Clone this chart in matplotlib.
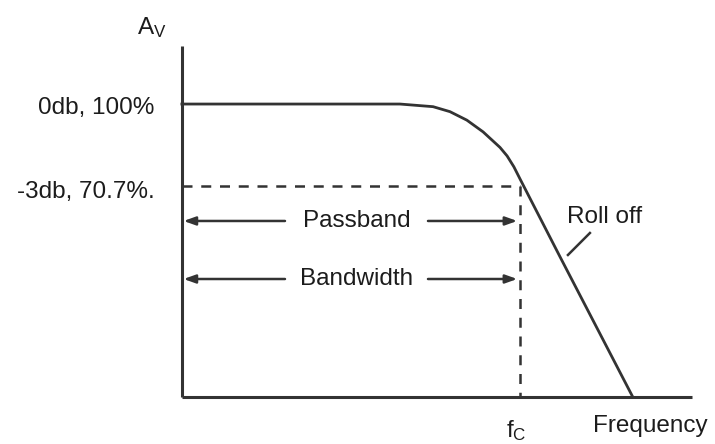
# Low-pass response: passband, -3 dB point, roll off
import matplotlib.pyplot as plt

plt.rcParams['font.family'] = ['Liberation Sans', 'DejaVu Sans']

# frequency (fc = 1) and gain (%)
freq = [0.0, 0.645, 0.743, 0.793, 0.843, 0.891, 0.941, 0.962, 0.982, 1.0, 1.118, 1.334]
gain = [100, 100, 99.1, 97.4, 94.5, 90.5, 85.2, 82.3, 78.6, 74.5, 48.0, 0]

fc = 1.0
cut_gain = 72.0
y_labels = ['0db, 100%', '-3db, 70.7%.']
y_label_pos = [98.6, 70.0]

ink = '#333333'
txt_c = '#1c1c1c'

fig = plt.figure(figsize=(7.15, 4.44), dpi=100)
ax = fig.add_axes([0, 0, 1, 1])
ax.set_xlim(-0.538, 1.577)
ax.set_ylim(-16.0, 135.5)
ax.axis('off')

# axes
ax.plot([0, 0], [0, 119.8], color=ink, lw=2.2, solid_capstyle='butt')
ax.plot([0, 1.509], [0, 0], color=ink, lw=2.2, solid_capstyle='butt')

# response curve
ax.plot(freq, gain, color=ink, lw=2.0, solid_joinstyle='round')

# -3 dB guide lines
ax.plot([0, fc], [cut_gain, cut_gain], color=ink, lw=1.8, dashes=(4, 3.5))
ax.plot([fc, fc], [cut_gain, 0], color=ink, lw=1.8, dashes=(4, 3.5))

# passband / bandwidth arrows
arrow = dict(arrowstyle='-|>,head_length=0.7,head_width=0.25', color=ink, lw=1.8,
             shrinkA=0, shrinkB=0)
for lvl, txt in [(60.1, 'Passband'), (40.3, 'Bandwidth')]:
    ax.annotate('', xy=(0.005, lvl), xytext=(0.305, lvl), arrowprops=arrow)
    ax.annotate('', xy=(fc - 0.008, lvl), xytext=(0.728, lvl), arrowprops=arrow)
    ax.text(0.518, lvl, txt, ha='center', va='center', fontsize=17.5, color=txt_c)

# roll off label
ax.text(1.251, 61.6, 'Roll off', ha='center', va='center', fontsize=17.5, color=txt_c)
ax.plot([1.207, 1.142], [56.0, 48.5], color=ink, lw=1.8)

# y labels
for lab, yy in zip(y_labels, y_label_pos):
    ax.text(-0.08, yy, lab, ha='right', va='center', fontsize=17.5, color=txt_c)

ax.text(-0.132, 130.5, r'$\mathregular{A_V}$', ha='left', va='top', fontsize=17.5, color=txt_c)
ax.text(fc - 0.01, -13.7, r'$\mathregular{f_C}$', ha='center', va='baseline', fontsize=17.5, color=txt_c)
ax.text(1.385, -11.9, 'Frequency', ha='center', va='baseline', fontsize=17.5, color=txt_c)

fig.savefig('out.png', dpi=100)
